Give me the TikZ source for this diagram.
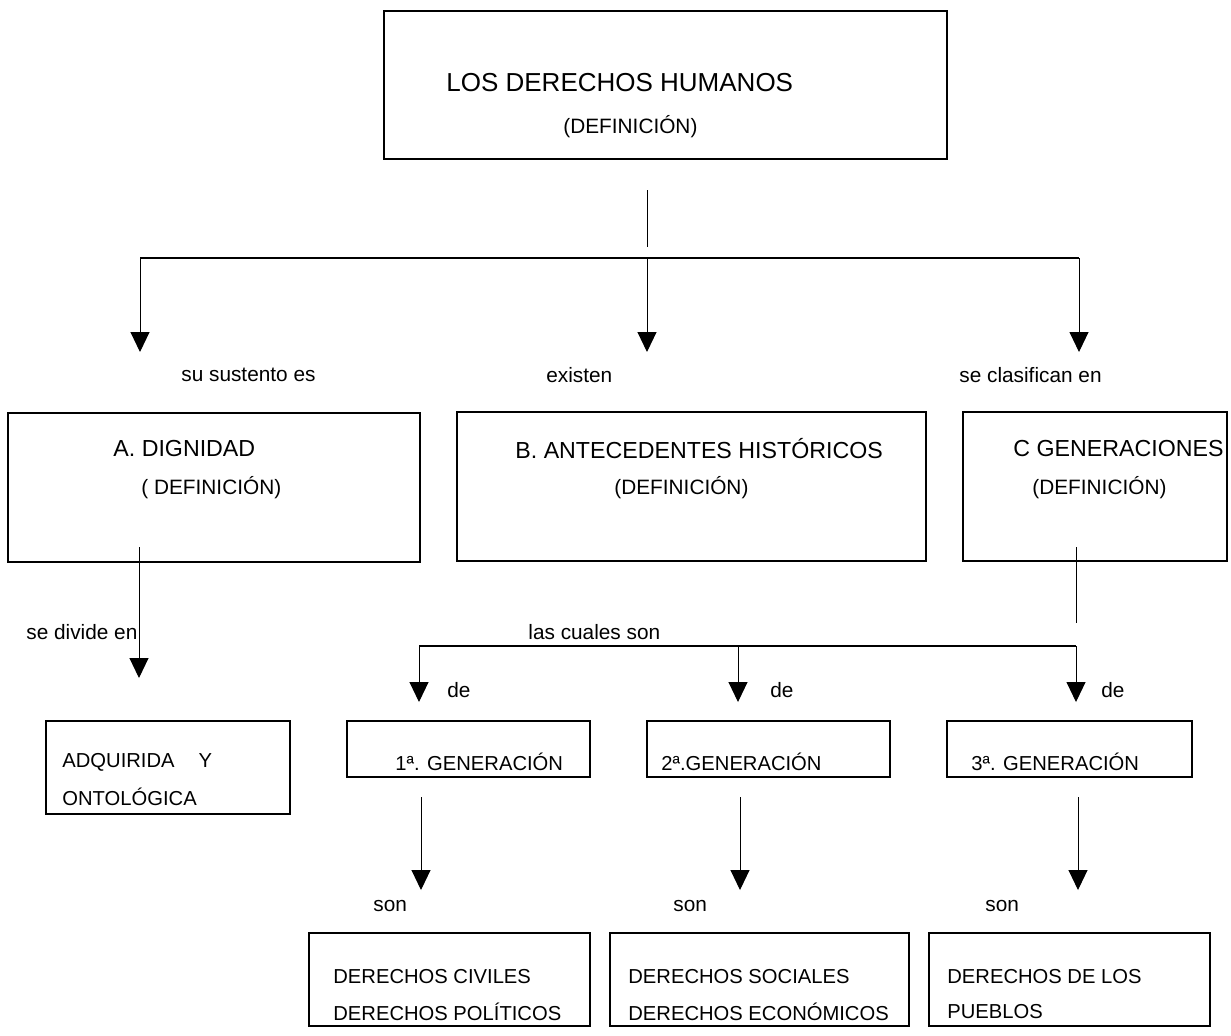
\documentclass[tikz,border=0pt]{standalone}
\usepackage{fontspec}
\setmainfont{Liberation Sans}
\usetikzlibrary{arrows.meta}

\begin{document}
\begin{tikzpicture}[x=0.5pt,y=-0.5pt,
>={Triangle[length=10pt,width=9.5pt]},
caja/.style={draw,line width=0.75pt,inner sep=0pt,outer sep=0pt},
txt/.style={anchor=west,inner sep=0pt,font=\fontsize{10.4}{12}\selectfont},
chico/.style={anchor=west,inner sep=0pt,font=\fontsize{10.1}{12}\selectfont},
cab/.style={anchor=west,inner sep=0pt,font=\fontsize{11.6}{14}\selectfont},
flecha/.style={->,line width=0.5pt}]
\useasboundingbox (0,0) rectangle (1231,1035);
% cajas
\node[caja,minimum width=281.5pt,minimum height=74pt] (dh) at (665.5,85) {};
\node[caja,minimum width=206pt,minimum height=74.5pt] (dig) at (214,487.5) {};
\node[caja,minimum width=234.5pt,minimum height=74.5pt] (ant) at (691.5,486.5) {};
\node[caja,minimum width=132pt,minimum height=74.5pt] (gen) at (1095,486.5) {};
\node[caja,minimum width=122pt,minimum height=46.5pt] (adq) at (168,767.5) {};
\node[caja,minimum width=121.5pt,minimum height=28pt] (g1) at (468.5,749) {};
\node[caja,minimum width=121.5pt,minimum height=28pt] (g2) at (768.5,749) {};
\node[caja,minimum width=122.5pt,minimum height=28pt] (g3) at (1069.5,749) {};
\node[caja,minimum width=140.5pt,minimum height=46.5pt] (d1) at (449.5,979.5) {};
\node[caja,minimum width=149.5pt,minimum height=46.5pt] (d2) at (759.5,979.5) {};
\node[caja,minimum width=140.5pt,minimum height=46.5pt] (d3) at (1069.5,979.5) {};
% textos de las cajas
\node[anchor=west,inner sep=0pt,font=\fontsize{13}{15}\selectfont] (dhT) at (446,83) {LOS DERECHOS HUMANOS};
\node[txt] (dhD) at (563,127) {(DEFINICIÓN)};
\node[cab] (digT) at (113,449) {A. DIGNIDAD};
\node[txt] (digD) at (141,488) {( DEFINICIÓN)};
\node[cab] (antT) at (515,449) {B. ANTECEDENTES HISTÓRICOS};
\node[txt] (antD) at (614,488) {(DEFINICIÓN)};
\node[cab] (genT) at (1013,449) {C GENERACIONES};
\node[txt] (genD) at (1032,488) {(DEFINICIÓN)};
\node[chico] (adqT) at (62,762) {ADQUIRIDA\hspace{12pt}Y};
\node[chico] (adqB) at (62,797) {ONTOLÓGICA};
\node[chico] (g1T) at (395,762) {1ª. GENERACIÓN};
\node[chico] (g2T) at (661,762) {2ª.GENERACIÓN};
\node[chico] (g3T) at (971,762) {3ª. GENERACIÓN};
\node[chico] (d1T) at (333,977) {DERECHOS CIVILES};
\node[chico] (d1B) at (333,1012) {DERECHOS POLÍTICOS};
\node[chico] (d2T) at (628,977) {DERECHOS SOCIALES};
\node[chico] (d2B) at (628,1012) {DERECHOS ECONÓMICOS};
\node[chico] (d3T) at (947,977) {DERECHOS DE LOS};
\node[chico] (d3B) at (947,1012) {PUEBLOS};
% etiquetas
\node[txt] (lSus) at (181,375) {su sustento es};
\node[txt] (lExi) at (546,375) {existen};
\node[txt] (lCla) at (959,375) {se clasifican en};
\node[txt] (lDiv) at (26,632) {se divide en};
\node[txt] (lCua) at (528,632) {las cuales son};
\node[txt] (lDe1) at (447,690) {de};
\node[txt] (lDe2) at (770,690) {de};
\node[txt] (lDe3) at (1101,690) {de};
\node[txt] (lSon1) at (373,906) {son};
\node[txt] (lSon2) at (673,906) {son};
\node[txt] (lSon3) at (985,906) {son};
% puntos de las ramas
\coordinate (s0) at (647,190);
\coordinate (s1) at (647,247);
\coordinate (r1) at (140,258);
\coordinate (r2) at (647,258);
\coordinate (r3) at (1079,258);
\coordinate (a1) at (140,352);
\coordinate (a2) at (647,352);
\coordinate (a3) at (1079,352);
\coordinate (p0) at (139,547);
\coordinate (p1) at (139,678);
\coordinate (q0) at (1076,547);
\coordinate (q1) at (1076,623);
\coordinate (b1) at (419,646);
\coordinate (b2) at (738,646);
\coordinate (b3) at (1076,646);
\coordinate (c1) at (419,702);
\coordinate (c2) at (738,702);
\coordinate (c3) at (1076,702);
\coordinate (e1) at (421,797);
\coordinate (e2) at (740,797);
\coordinate (e3) at (1078,797);
\coordinate (f1) at (421,890);
\coordinate (f2) at (740,890);
\coordinate (f3) at (1078,890);
% conectores
\draw[line width=0.5pt] (s0) -- (s1);
\draw[line width=1pt] (r1) -- (r3);
\draw[flecha] (r1) -- (a1);
\draw[flecha] (r2) -- (a2);
\draw[flecha] (r3) -- (a3);
\draw[flecha] (p0) -- (p1);
\draw[line width=0.5pt] (q0) -- (q1);
\draw[line width=0.6pt] (b1) -- (b3);
\draw[flecha] (b1) -- (c1);
\draw[flecha] (b2) -- (c2);
\draw[flecha] (b3) -- (c3);
\draw[flecha] (e1) -- (f1);
\draw[flecha] (e2) -- (f2);
\draw[flecha] (e3) -- (f3);
\end{tikzpicture}
\end{document}
